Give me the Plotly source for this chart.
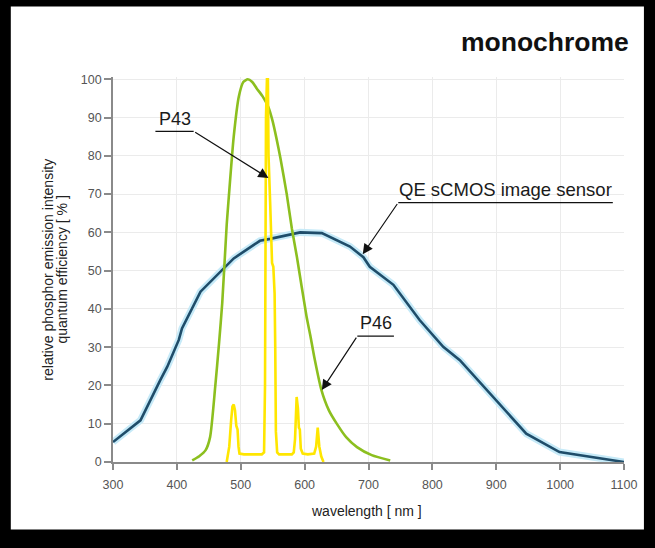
import plotly.graph_objects as go

# ---------------- data ----------------
qe_wavelength = [300, 343, 374, 385, 403, 408, 437, 458, 489, 530, 546, 593, 627,
                 671, 692, 702, 739, 780, 817, 843, 874, 947, 999, 1051, 1100]
qe_percent = [5.2, 10.9, 21.4, 24.9, 31.9, 34.9, 44.5, 48.0, 53.2, 57.8, 58.3, 60.0, 59.8,
              56.3, 53.5, 51.0, 46.3, 37.1, 30.1, 26.6, 20.9, 7.4, 2.6, 1.3, 0.0]

p46_wavelength = [424, 435, 445, 452, 460, 466, 471, 478, 481, 489, 497, 504, 511, 518, 525,
                  534, 543, 550, 556, 562, 572, 580, 588, 603, 609, 615, 626, 638, 650, 665,
                  682, 705, 734]
p46_intensity = [0.4, 1.5, 3.1, 6.5, 19.6, 31.0, 41.5, 62.0, 68.6, 85.0, 95.5, 99.3, 100.0,
                 99.3, 97.6, 95.6, 92.8, 89.0, 84.5, 79.5, 70.0, 61.0, 53.5, 38.0, 33.0,
                 27.5, 19.0, 13.5, 10.1, 6.5, 3.9, 1.8, 0.4]

p43_wavelength = [478, 482, 485, 487, 489, 491, 493, 495, 496.5, 498, 505, 520, 533, 536.5,
                  538, 539.5, 541, 542.5, 543.5, 546, 549, 551, 553, 554, 555, 557, 560,
                  570, 580, 583, 585, 587.5, 589.5, 591, 592.5, 594, 597, 605, 615, 618,
                  620.5, 623, 626, 629.5]
p43_intensity = [0, 4, 11, 14.5, 15, 13.5, 9.5, 8.5, 4, 2.2, 2, 2, 2, 2.5,
                 20, 90, 100, 100, 80, 68, 52, 51, 44, 30, 8, 2.5, 2,
                 2, 2, 2.5, 6, 17, 14, 9, 8.5, 3.5, 2.2, 2, 2.2, 4,
                 9, 4, 1.5, 0]

x_tick_values = [300, 400, 500, 600, 700, 800, 900, 1000, 1100]
y_tick_values = [0, 10, 20, 30, 40, 50, 60, 70, 80, 90, 100]

title_text = "monochrome"
x_title = "wavelength [ nm ]"
y_title_lines = ["relative phosphor emission intensity", "quantum efficiency [ % ]"]
label_p43 = "P43"
label_p46 = "P46"
label_qe = "QE sCMOS image sensor"

FONT = "Liberation Sans, Arial, Helvetica, sans-serif"

# ---------------- figure ----------------
fig = go.Figure()

fig.add_trace(go.Scatter(x=qe_wavelength, y=qe_percent, mode="lines",
                         line=dict(color="#c6eaf8", width=7), hoverinfo="skip",
                         showlegend=False))
fig.add_trace(go.Scatter(x=qe_wavelength, y=qe_percent, mode="lines",
                         line=dict(color="#1f4d6a", width=2.6), name="QE sCMOS",
                         showlegend=False))
fig.add_trace(go.Scatter(x=p46_wavelength, y=p46_intensity, mode="lines",
                         line=dict(color="#8cbf1f", width=2.6, shape="spline", smoothing=0.6),
                         name="P46", showlegend=False))
fig.add_trace(go.Scatter(x=p43_wavelength, y=p43_intensity, mode="lines",
                         line=dict(color="#ffe600", width=2.6), name="P43",
                         showlegend=False))

# white page inside the black frame
fig.add_shape(type="rect", xref="paper", yref="paper",
              x0=-0.2, x1=1.039, y0=-0.1755, y1=1.183,
              fillcolor="white", line=dict(width=0), layer="below")

# label underlines
underline = dict(color="#111111", width=1.2)
fig.add_shape(type="line", xref="x", yref="y", x0=366.4, x1=426.3, y0=86.4, y1=86.4, line=underline)
fig.add_shape(type="line", xref="x", yref="y", x0=682.5, x1=739.8, y0=32.9, y1=32.9, line=underline)
fig.add_shape(type="line", xref="x", yref="y", x0=746.6, x1=1082.5, y0=67.8, y1=67.8, line=underline)

annotations = []
label_font = dict(family=FONT, size=18, color="#1a1a1a")
annotations.append(dict(x=397.7, y=89.6, xref="x", yref="y", text=label_p43, showarrow=False,
                        font=label_font, xanchor="center", yanchor="middle"))
annotations.append(dict(x=712.2, y=36.4, xref="x", yref="y", text=label_p46, showarrow=False,
                        font=label_font, xanchor="center", yanchor="middle"))
annotations.append(dict(x=914.5, y=71.3, xref="x", yref="y", text=label_qe, showarrow=False,
                        font=dict(family=FONT, size=18.5, color="#1a1a1a"),
                        xanchor="center", yanchor="middle"))

arrow_style = dict(showarrow=True, arrowhead=2, arrowsize=1.7, arrowwidth=1.2,
                   arrowcolor="#111111", text="", xref="x", yref="y", axref="x", ayref="y")
annotations.append(dict(x=543.4, y=74.2, ax=426.3, ay=86.4, **arrow_style))
annotations.append(dict(x=626.9, y=18.8, ax=682.5, ay=32.9, **arrow_style))
annotations.append(dict(x=691.0, y=54.3, ax=746.6, ay=67.8, **arrow_style))

# title
annotations.append(dict(x=1.0134, y=1.09, xref="paper", yref="paper", text="<b>%s</b>" % title_text,
                        showarrow=False, xanchor="right", yanchor="middle",
                        font=dict(family=FONT, size=26.5, color="#111111")))
# axis titles
annotations.append(dict(x=0.4965, y=-0.128, xref="paper", yref="paper", text=x_title,
                        showarrow=False, xanchor="center", yanchor="middle",
                        font=dict(family=FONT, size=14, color="#222222")))
annotations.append(dict(x=-0.1289, y=0.5, xref="paper", yref="paper", text=y_title_lines[0],
                        showarrow=False, xanchor="center", yanchor="middle", textangle=-90,
                        font=dict(family=FONT, size=14, color="#222222")))
annotations.append(dict(x=-0.1016, y=0.5, xref="paper", yref="paper", text=y_title_lines[1],
                        showarrow=False, xanchor="center", yanchor="middle", textangle=-90,
                        font=dict(family=FONT, size=14, color="#222222")))

fig.update_layout(
    width=655, height=548,
    margin=dict(l=112.5, r=30.5, t=77.4, b=86.3, pad=0),
    paper_bgcolor="black",
    plot_bgcolor="white",
    annotations=annotations,
    showlegend=False,
    font=dict(family=FONT),
)

fig.update_xaxes(range=[300, 1100], tickvals=x_tick_values,
                 ticktext=[str(v) for v in x_tick_values],
                 showgrid=True, gridcolor="#ebebeb", gridwidth=1,
                 showline=True, linecolor="#8a8a8a", linewidth=1.6,
                 ticks="outside", ticklen=6, tickcolor="#8a8a8a", tickwidth=1.5,
                 tickfont=dict(family=FONT, size=12.5, color="#555555"),
                 ticklabelstandoff=4, zeroline=False, fixedrange=True)
fig.update_yaxes(range=[0, 100.6], tickvals=y_tick_values,
                 ticktext=[str(v) for v in y_tick_values],
                 showgrid=True, gridcolor="#ebebeb", gridwidth=1,
                 showline=True, linecolor="#8a8a8a", linewidth=1.6,
                 ticks="outside", ticklen=7, tickcolor="#8a8a8a", tickwidth=1.5,
                 tickfont=dict(family=FONT, size=12.5, color="#555555"),
                 zeroline=False, fixedrange=True)

fig.write_html(
    "out.html",
    config={"displayModeBar": False},
    post_script="document.documentElement.style.margin='0';document.body.style.margin='0';"
                "document.body.style.padding='0';document.body.style.background='black';"
                "document.body.style.overflow='hidden';",
)
